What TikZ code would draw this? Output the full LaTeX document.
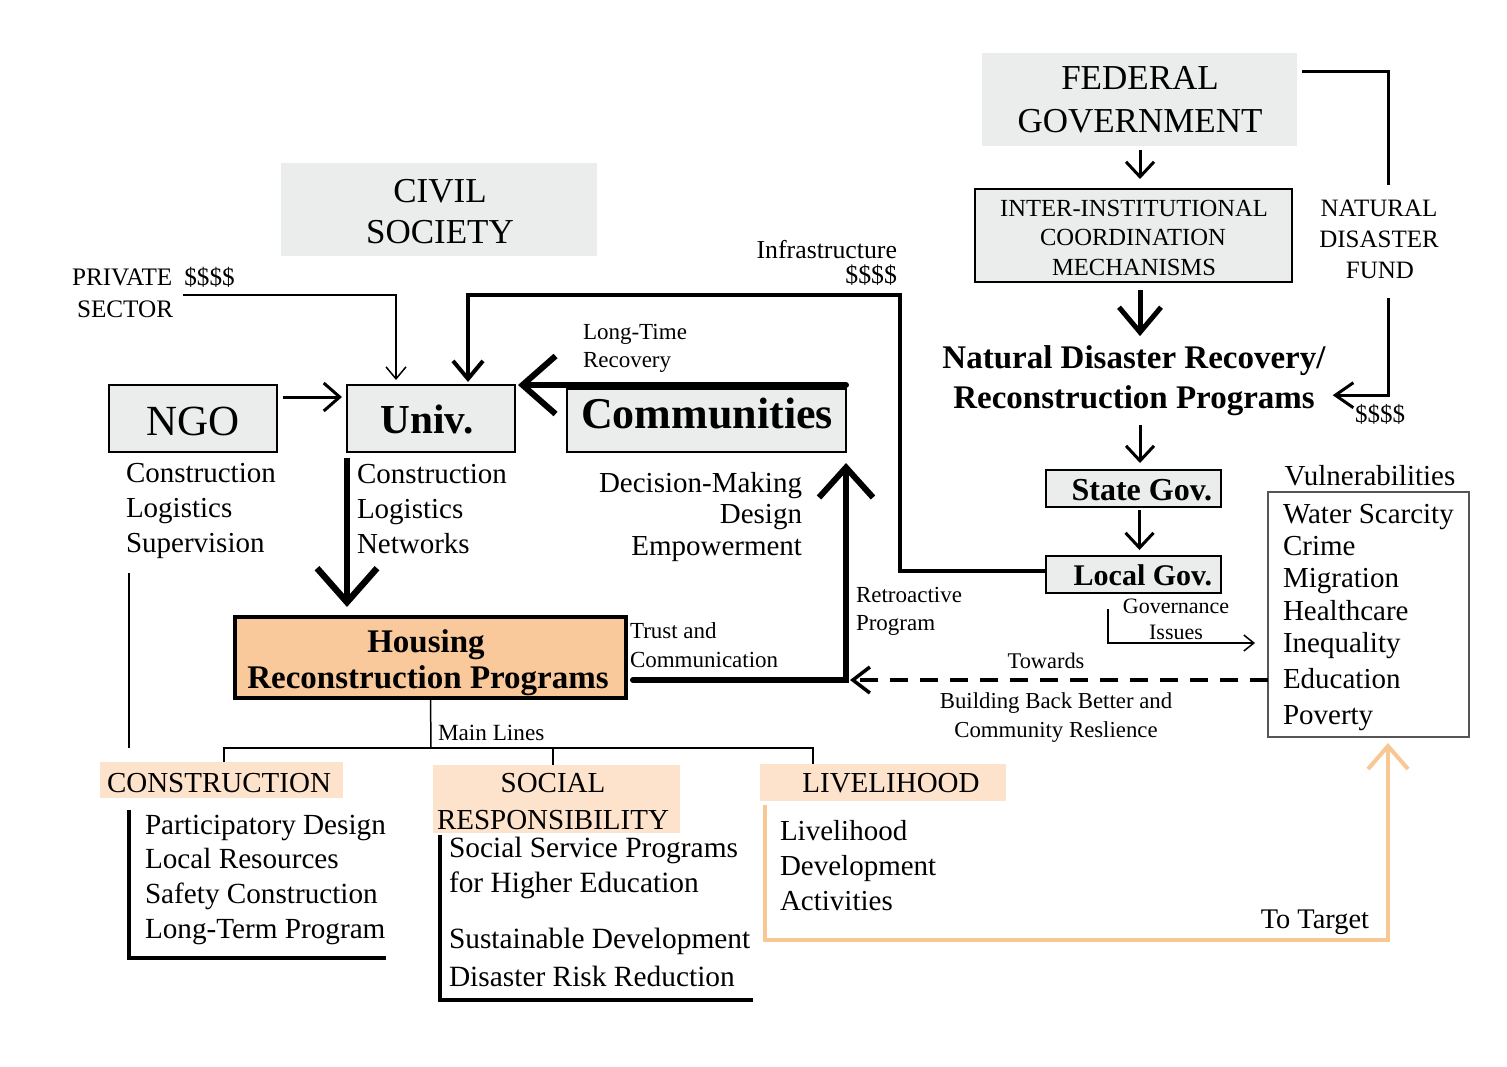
\documentclass[tikz,border=0pt]{standalone}
\usepackage{fontspec}
\setmainfont{Liberation Serif}
\usetikzlibrary{arrows.meta,calc}
\definecolor{gbox}{HTML}{EBECEC}
\definecolor{hfill}{HTML}{F9C99B}
\definecolor{lfill}{HTML}{FDE3CC}
\definecolor{oline}{HTML}{F8C794}
\definecolor{vline}{HTML}{555555}
\newcommand{\myfs}[1]{\fontsize{#1pt}{#1pt}\selectfont}
\begin{document}
\begin{tikzpicture}[x=0.5pt,y=-0.5pt,
  lbl/.style={inner sep=0pt,outer sep=0pt},
  graybox/.style={rectangle,inner sep=0pt,outer sep=0pt,fill=gbox,draw=black,line width=1pt},
  flatbox/.style={rectangle,inner sep=0pt,outer sep=0pt,fill=gbox},
  tagbox/.style={rectangle,inner sep=0pt,outer sep=0pt,fill=lfill},
  thinln/.style={line width=0.75pt},
  medln/.style={line width=1.5pt},
  medtip/.style={-{Straight Barb[length=7.5pt,width=14pt]}},
  bigtip/.style={-{Straight Barb[length=16.5pt,width=29pt]}},
  fa/.style={font=\myfs{17.5}},
  fs/.style={font=\myfs{12.3}},
  fx/.style={font=\myfs{11.5}},
  fm/.style={font=\myfs{14.5}},
  fl/.style={font=\myfs{14.6}},
  fb/.style={font=\bfseries\myfs{16.5}}
]
\path[use as bounding box,fill=white] (0,0) rectangle (1507,1066);

% ---------- boxes ----------
\node[flatbox,minimum width=158pt,minimum height=46.5pt] (civil) at (439,209.5) {};
\node[flatbox,minimum width=157.5pt,minimum height=46.5pt] (federal) at (1139.5,99.5) {};
\node[graybox,minimum width=158.5pt,minimum height=46.5pt] (inter) at (1133.5,235.5) {};
\node[graybox,minimum width=87.5pt,minimum height=18.5pt] (state) at (1133.5,488.5) {};
\node[graybox,minimum width=87.5pt,minimum height=18.5pt] (local) at (1133.5,574.5) {};
\node[graybox,minimum width=139.5pt,minimum height=31.5pt] (comm) at (706.5,420.5) {};
\node[graybox,minimum width=84pt,minimum height=33.5pt] (univ) at (431,418.5) {};
\node[graybox,minimum width=84pt,minimum height=33.5pt] (ngo) at (193,418.5) {};
\node[rectangle,fill=hfill,draw=black,line width=2pt,minimum width=195.5pt,minimum height=40.5pt,inner sep=0pt,outer sep=0pt] (housing) at (430.5,657.5) {};
\node[rectangle,draw=vline,line width=0.75pt,minimum width=100.5pt,minimum height=122.5pt,inner sep=0pt,outer sep=0pt] (vuln) at (1368.5,614.5) {};
\node[tagbox,minimum width=121.5pt,minimum height=18pt] (labcons) at (221.5,780) {};
\node[tagbox,minimum width=123.5pt,minimum height=34pt] (labsoc) at (556.5,799) {};
\node[tagbox,minimum width=123pt,minimum height=18.5pt] (labliv) at (883,782.5) {};

% ---------- texts ----------
\node[lbl,anchor=base,fa] (civ1) at (440,202) {CIVIL};
\node[lbl,anchor=base,fa] (civ2) at (440,243) {SOCIETY};
\node[lbl,anchor=base,fa] (fed1) at (1140,89) {FEDERAL};
\node[lbl,anchor=base,fa] (fed2) at (1140,132) {GOVERNMENT};
\node[lbl,anchor=base,fs] (int1) at (1134,216) {INTER-INSTITUTIONAL};
\node[lbl,anchor=base,fs] (int2) at (1133,245) {COORDINATION};
\node[lbl,anchor=base,fs] (int3) at (1134,275) {MECHANISMS};
\node[lbl,anchor=base,font=\myfs{12.5}] (fund1) at (1379,216) {NATURAL};
\node[lbl,anchor=base,font=\myfs{12.5}] (fund2) at (1379,247) {DISASTER};
\node[lbl,anchor=base,font=\myfs{12.5}] (fund3) at (1380,278) {FUND};
\node[lbl,anchor=base west,font=\myfs{12.5}] (fundd) at (1355,422) {\$\$\$\$};
\node[lbl,anchor=base,fb] (ndr1) at (1134,368) {Natural Disaster Recovery/};
\node[lbl,anchor=base,fb] (ndr2) at (1134,408) {Reconstruction Programs};
\node[lbl,anchor=base east,font=\bfseries\myfs{16}] (statet) at (1212,500) {State Gov.};
\node[lbl,anchor=base east,font=\bfseries\myfs{15}] (localt) at (1212,585) {Local Gov.};
\node[lbl,anchor=base,font=\myfs{11}] (gov1) at (1176,613) {Governance};
\node[lbl,anchor=base,font=\myfs{11}] (gov2) at (1176,639) {Issues};
\node[lbl,anchor=base,fm] (vultitle) at (1370,485) {Vulnerabilities};
\node[lbl,anchor=base west,fm] (v1) at (1283,523) {Water Scarcity};
\node[lbl,anchor=base west,fm] (v2) at (1283,555) {Crime};
\node[lbl,anchor=base west,fm] (v3) at (1283,587) {Migration};
\node[lbl,anchor=base west,fm] (v4) at (1283,620) {Healthcare};
\node[lbl,anchor=base west,fm] (v5) at (1283,652) {Inequality};
\node[lbl,anchor=base west,fm] (v6) at (1283,688) {Education};
\node[lbl,anchor=base west,fm] (v7) at (1283,724) {Poverty};
\node[lbl,anchor=base,font=\myfs{11.2}] (tow) at (1046,668) {Towards};
\node[lbl,anchor=base,font=\myfs{11.4}] (bbb1) at (1056,708) {Building Back Better and};
\node[lbl,anchor=base,font=\myfs{11.4}] (bbb2) at (1056,737) {Community Reslience};
\node[lbl,anchor=base east,font=\myfs{12.9}] (inf1) at (897,258) {Infrastructure};
\node[lbl,anchor=base east,font=\myfs{12.9}] (inf2) at (897,283) {\$\$\$\$};
\node[lbl,anchor=base west,fx] (lt1) at (583,339) {Long-Time};
\node[lbl,anchor=base west,fx] (lt2) at (583,367) {Recovery};
\node[lbl,anchor=base,font=\bfseries\myfs{22}] (commt) at (707,428) {Communities};
\node[lbl,anchor=base,font=\bfseries\myfs{20.6}] (univt) at (427,433) {Univ.};
\node[lbl,anchor=base,font=\myfs{21.5}] (ngot) at (193,435) {NGO};
\node[lbl,anchor=base west,font=\myfs{12.6}] (priv1) at (72,285) {PRIVATE\hspace{6pt}\$\$\$\$};
\node[lbl,anchor=base west,font=\myfs{12.6}] (priv2) at (77,317) {SECTOR};
\node[lbl,anchor=base west,fm] (n1) at (126,482) {Construction};
\node[lbl,anchor=base west,fm] (n2) at (126,517) {Logistics};
\node[lbl,anchor=base west,fm] (n3) at (126,552) {Supervision};
\node[lbl,anchor=base west,fm] (u1) at (357,483) {Construction};
\node[lbl,anchor=base west,fm] (u2) at (357,518) {Logistics};
\node[lbl,anchor=base west,fm] (u3) at (357,553) {Networks};
\node[lbl,anchor=base east,fm] (c1) at (802,492) {Decision-Making};
\node[lbl,anchor=base east,fm] (c2) at (802,523) {Design};
\node[lbl,anchor=base east,fm] (c3) at (802,555) {Empowerment};
\node[lbl,anchor=base west,fx] (re1) at (856,602) {Retroactive};
\node[lbl,anchor=base west,fx] (re2) at (856,630) {Program};
\node[lbl,anchor=base west,fx] (tr1) at (630,638) {Trust and};
\node[lbl,anchor=base west,fx] (tr2) at (630,667) {Communication};
\node[lbl,anchor=base,fb] (hou1) at (426,652) {Housing};
\node[lbl,anchor=base,fb] (hou2) at (428,688) {Reconstruction Programs};
\node[lbl,anchor=base west,font=\myfs{11.6}] (mainl) at (438,740) {Main Lines};
\node[lbl,anchor=base west,fm] (lc) at (107,792) {CONSTRUCTION};
\node[lbl,anchor=base,fm] (ls1) at (553,792) {SOCIAL};
\node[lbl,anchor=base,fm] (ls2) at (553,829) {RESPONSIBILITY};
\node[lbl,anchor=base,fm] (ll) at (891,792) {LIVELIHOOD};
\node[lbl,anchor=base west,fl] (p1) at (145,834) {Participatory Design};
\node[lbl,anchor=base west,fl] (p2) at (145,868) {Local Resources};
\node[lbl,anchor=base west,fl] (p3) at (145,903) {Safety Construction};
\node[lbl,anchor=base west,fl] (p4) at (145,938) {Long-Term Program};
\node[lbl,anchor=base west,font=\myfs{14.7}] (s1) at (449,857) {Social Service Programs};
\node[lbl,anchor=base west,font=\myfs{14.7}] (s2) at (449,892) {for Higher Education};
\node[lbl,anchor=base west,font=\myfs{14.7}] (s3) at (449,948) {Sustainable Development};
\node[lbl,anchor=base west,font=\myfs{14.7}] (s4) at (449,986) {Disaster Risk Reduction};
\node[lbl,anchor=base west,fm] (l1) at (780,840) {Livelihood};
\node[lbl,anchor=base west,fm] (l2) at (780,875) {Development};
\node[lbl,anchor=base west,fm] (l3) at (780,910) {Activities};
\node[lbl,anchor=base east,font=\myfs{14.2}] (tt) at (1369,928) {To Target};

% ---------- connectors ----------
\coordinate (privstart) at (183,295);
\draw[thinln,-{Straight Barb[length=6pt,width=10pt]}] (privstart) -| ([xshift=-17.5pt,yshift=2.5pt]univ.north);
\draw[medln,-{Straight Barb[length=8pt,width=14pt]}] ([xshift=3pt,yshift=10.75pt]ngo.east) -- ([xshift=-2.5pt,yshift=10.75pt]univ.west);
\coordinate (infA) at (900,571);
\coordinate (infB) at (900,295);
\draw[line width=2pt,-{Straight Barb[length=9pt,width=15pt]}] ([yshift=1.75pt]local.west) -- (infA) -- (infB) -| ([xshift=18.5pt,yshift=1.5pt]univ.north);
\draw[line width=3pt,line cap=round,bigtip] ([yshift=2pt]comm.north east) -- ([xshift=1.5pt]univ.north east);
\coordinate (h1) at (univ.west |- housing.north);
\draw[line width=3.2pt,-{Straight Barb[length=17pt,width=30pt]}] ([yshift=-3pt]univ.south west) -- ([yshift=5pt]h1);
\coordinate (junc) at (846,680);
\draw[line width=3pt,line cap=round,-{Straight Barb[length=15pt,width=27pt]}] ([xshift=3.5pt,yshift=-11.25pt]housing.east) -- (junc) -- ([yshift=-5.5pt]comm.south east);
\draw[line width=1.75pt,dash pattern=on 9pt off 6pt,-{Straight Barb[length=8.5pt,width=13pt]}] ([yshift=-32.75pt]vuln.west) -- ([xshift=2pt]junc);
\draw[medln,medtip] ([xshift=0.25pt,yshift=-2pt]federal.south) -- ([xshift=3.25pt,yshift=5pt]inter.north);
\draw[line width=2.5pt,-{Straight Barb[length=12.5pt,width=21pt]}] ([xshift=3.25pt,yshift=-4pt]inter.south) -- ([xshift=3.25pt,yshift=4.5pt]inter.south |- ndr1.north);
\coordinate (fundtop) at (1388,185);
\draw[medln] ([xshift=2.5pt,yshift=14.25pt]federal.east) -| (fundtop);
\coordinate (fundbot) at (1388,298);
\draw[medln,-{Straight Barb[length=9pt,width=12.5pt]}] (fundbot) |- ([xshift=9pt,yshift=2.5pt]ndr2.east);
\draw[medln,medtip] ([xshift=3.25pt,yshift=-5pt]state.north |- ndr2.south) -- ([xshift=3.25pt,yshift=3.5pt]state.north);
\draw[medln,medtip] ([xshift=3pt,yshift=-1.5pt]state.south) -- ([xshift=3pt,yshift=3pt]local.north);
\coordinate (govend) at (1255,643);
\draw[thinln,-{Straight Barb[length=5pt,width=8pt]}] ([xshift=-12.75pt,yshift=-8pt]local.south) |- (govend);
\coordinate (mlbar) at (431,748);
\draw[thinln] (housing.south) -- (mlbar);
\draw[thinln] ([xshift=1.25pt]labcons.north) |- (mlbar) -| ([xshift=-35pt]labliv.north);
\draw[thinln] ([xshift=-1.75pt]labsoc.north) -- ([xshift=-1.75pt]labsoc.north |- mlbar);
\coordinate (ngl1) at (129,573);
\coordinate (ngl2) at (129,748);
\draw[thinln] (ngl1) -- (ngl2);
\coordinate (cb1) at (129,810);
\coordinate (cb2) at (386,958);
\draw[line width=2pt] (cb1) |- (cb2);
\coordinate (sb1) at (440,835);
\coordinate (sb2) at (753,1000);
\draw[line width=2pt] (sb1) |- (sb2);
\coordinate (oc) at (1388,940);
\draw[oline,line width=2pt,-{Straight Barb[length=11.5pt,width=20pt]}] ([xshift=2.5pt,yshift=-2pt]labliv.south west) |- (oc) -- ([xshift=9.75pt,yshift=-3pt]vuln.south);
\end{tikzpicture}
\end{document}
